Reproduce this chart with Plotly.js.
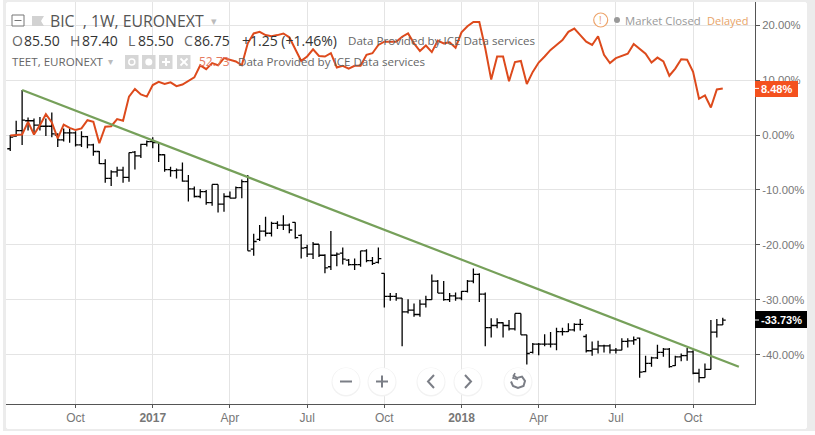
<!DOCTYPE html>
<html><head><meta charset="utf-8">
<script src="https://cdn.plot.ly/plotly-3.0.1.min.js"></script>
<style>
html,body{margin:0;padding:0;background:#fff;width:815px;height:435px;overflow:hidden}
#frame{position:absolute;left:3px;top:0;width:812px;height:431px;background:#ececec}
#chart{position:absolute;left:6px;top:2px;width:801px;height:427px;background:#fff;border-radius:3px;overflow:hidden}
</style></head><body>
<div id="frame"></div><div id="chart"></div>
<script>
const firstWeek = '2016-07-16';
const opens = [-2.5,-0.2,0.8,2.6,2.6,1.8,1.6,1.6,0,-0.9,0.4,0.4,-1.8,-0.3,-1.8,-3.0,-5.2,-7.9,-6.7,-6.4,
 -7.7,-3.1,-3.8,-1.7,-1.2,-1.4,-3.6,-6.3,-6.5,-6.4,-8.4,-9.8,-11.2,-10.3,-12.3,-9.0,-12.6,-11.2,-11.5,-9.6,
 -8.5,-20.8,-19.0,-17.5,-17.9,-16.1,-16.4,-16.4,-15.9,-18.3,-20.5,-21.7,-19.9,-21.9,-24.0,-21.9,-21.5,-22.8,-23.6,-23.6,
 -21.1,-22.9,-23.2,-25.2,-29.4,-29.4,-29.7,-32.2,-31.9,-32.7,-30.8,-30.0,-26.6,-28.8,-30.0,-29.3,-29.7,-28.5,-26.6,-25.4,
 -29.0,-35.1,-34.7,-34.2,-34.7,-35.3,-32.5,-36.4,-39.6,-38.1,-38.1,-38.1,-38.1,-35.8,-35.8,-35.5,-34.5,-36.7,-39.3,-39.0,
 -38.4,-38.4,-39.2,-39.2,-37.6,-37.5,-37.0,-43.1,-41.6,-40.6,-39.6,-39.0,-42.0,-40.4,-40.2,-39.5,-43.4,-44.2,-42.7,-35.9,-34.6];
const highs = [0,2.6,8.2,3.2,3.0,3.3,3.0,4.1,0.3,1.2,1.2,0.7,0.7,-0.2,-1.6,-2.9,-4.4,-6.4,-5.8,-5.8,
 -3.2,-2.9,-1.6,-1.0,-0.4,-1.4,-3.5,-5.8,-6.1,-5.0,-7.3,-9.4,-9.9,-10.0,-9.0,-9.0,-10.6,-10.3,-9.4,-8.1,
 -7.3,-18.0,-16.4,-14.9,-15.8,-15.7,-14.6,-16.1,-15.9,-18.1,-20.0,-19.5,-19.9,-21.7,-17.5,-21.4,-20.5,-22.6,-22.5,-21.1,
 -20.8,-22.2,-20.5,-25.2,-28.8,-28.8,-29.7,-29.9,-30.7,-30.0,-29.3,-25.4,-26.4,-26.6,-28.8,-28.7,-28.4,-26.4,-24.3,-25.2,
 -28.7,-33.4,-33.4,-34.1,-33.7,-32.5,-32.5,-36.4,-37.9,-37.9,-36.3,-35.9,-35.1,-35.1,-34.3,-34.3,-33.5,-36.3,-37.6,-37.5,
 -38.2,-38.1,-38.8,-37.0,-37.0,-36.7,-36.9,-40.2,-40.4,-38.2,-38.8,-38.8,-40.2,-39.8,-38.8,-39.2,-42.6,-41.6,-33.7,-33.5,-33.3];
const lows = [-2.9,-0.3,-1.8,0.8,0,0.8,-0.2,-0.4,-2.2,-1.2,-1.4,-2.1,-2.2,-2.4,-3.8,-5.3,-8.7,-9.3,-7.6,-8.7,
 -8.5,-6.3,-4.2,-2.1,-2.4,-4.9,-6.7,-7.6,-7.9,-8.5,-12.1,-11.4,-11.5,-12.7,-12.9,-14.1,-14.0,-11.5,-11.5,-11.5,
 -21.1,-22.0,-19.3,-18.5,-18.5,-17.1,-17.3,-17.9,-18.9,-22.5,-22.2,-22.6,-22.2,-25.2,-24.6,-23.9,-23.6,-23.8,-24.6,-24.0,
 -23.2,-23.7,-23.4,-31.4,-30.2,-30.2,-38.5,-32.5,-33.1,-33.1,-31.4,-30.0,-28.8,-30.2,-30.4,-30.2,-30.1,-28.7,-27.0,-30.4,
 -38.5,-36.9,-35.2,-36.9,-35.6,-35.6,-36.4,-41.8,-39.8,-40.1,-38.5,-38.7,-39.2,-36.5,-35.9,-35.8,-35.6,-39.6,-40.2,-39.8,
 -39.6,-39.8,-39.8,-39.2,-38.7,-38.2,-44.2,-43.2,-42.2,-40.8,-40.4,-42.4,-42.1,-41.2,-41.1,-43.6,-45.1,-44.2,-42.7,-36.9,-34.6];
const closes = [-0.4,0.8,2.7,2.6,1.8,1.6,1.6,0.2,-0.9,0.4,0.4,-1.8,-0.3,-1.8,-3.0,-5.2,-7.9,-6.7,-6.4,-7.7,
 -3.2,-3.8,-1.7,-1.2,-1.4,-3.6,-6.3,-6.5,-6.4,-8.4,-9.8,-11.2,-10.3,-12.3,-9.0,-12.6,-11.2,-11.5,-9.6,-8.5,
 -21.1,-19.4,-17.5,-17.9,-16.1,-16.4,-16.4,-17.3,-18.7,-20.6,-21.7,-19.9,-21.9,-24.2,-21.9,-21.7,-22.6,-23.6,-23.6,-21.1,
 -22.9,-23.4,-22.5,-29.4,-29.4,-29.7,-32.2,-31.9,-32.7,-30.8,-30.0,-26.6,-28.8,-30.0,-29.3,-29.7,-28.5,-26.6,-25.4,-29.0,
 -35.1,-34.7,-34.2,-34.7,-35.3,-32.5,-36.4,-39.8,-38.1,-38.1,-38.1,-38.1,-35.8,-35.8,-35.5,-34.5,-34.5,-39.3,-39.0,-38.4,
 -38.4,-39.2,-39.2,-37.6,-37.5,-37.3,-43.2,-41.6,-40.6,-39.6,-39.0,-42.2,-40.4,-40.2,-39.5,-43.4,-44.2,-42.7,-35.9,-34.6,-33.73];
const teet = [-0.1,0,0.1,2.4,0.1,1.8,3.8,2.3,-0.6,1.9,1.3,0.9,1.2,2.7,2.4,-1.5,1.5,1.6,2.9,2.6,
 7.0,8.4,7.4,7.0,9.1,9.7,9.3,9.6,8.9,9.2,9.9,10.5,12.7,12.0,13.1,12.7,14.0,13.7,13.4,12.7,
 16.7,18.5,18.8,18.2,18.0,18.2,18.5,17.8,15.5,13.5,14.3,15.6,14.4,14.3,14.9,12.3,12.6,12.1,12.6,12.6,
 14.6,14.9,16.4,17.0,17.0,17.0,17.9,18.5,16.7,15.3,16.3,15.1,17.2,16.7,16.9,15.9,18.7,19.8,20.6,20.6,
 15.8,10.1,14.3,14.3,9.8,13.3,13.5,9.3,11.5,13.2,14.3,15.5,16.4,17.3,18.8,19.4,18.2,17.0,16.4,18.0,
 14.6,13.1,14.0,14.4,14.8,16.6,15.7,14.8,13.2,14.1,13.4,10.8,12.1,13.8,13.7,11.5,6.6,7.2,5.0,8.3,8.48];
const trendDates = ['2016-07-30','2018-11-22'];
const trendValues = [8.2,-42.2];
const yTicks = [20,10,0,-10,-20,-30,-40];
const yLabels = ['20.00%','10.00%','0.00%','-10.00%','-20.00%','-30.00%','-40.00%'];
const xTicks = ['2016-10-01','2016-12-31','2017-04-01','2017-07-01','2017-09-30','2017-12-30','2018-03-31','2018-06-30','2018-09-29'];
const xLabels = ['Oct','<b>2017</b>','Apr','Jul','Oct','<b>2018</b>','Apr','Jul','Oct'];

const dates = opens.map((_, i) => {
  const d = new Date(firstWeek + 'T00:00:00Z');
  d.setUTCDate(d.getUTCDate() + 7 * i);
  return d.toISOString().slice(0, 10);
});

// Pixel helpers for page furniture (header, buttons, price tags)
const PL = 6, PR = 755, PT = 2, PB = 404;
const px = x => (x - PL) / (PR - PL);
const py = y => (PB - y) / (PB - PT);
const FONT = '"Open Sans","Noto Sans",sans-serif';
const AX = '"Liberation Sans",Arial,sans-serif';
const anns = [];
function T(x, y, text, size, color, anchor, font) {
  anns.push({xref:'paper', yref:'paper', x:px(x), y:py(y), text, showarrow:false,
    xanchor:anchor || 'left', yanchor:'middle', borderpad:0,
    font:{family:font || FONT, size, color}});
}
const shapes = [];
function R(x0,y0,x1,y1,fill,line,w) {
  shapes.push({type:'rect',xref:'paper',yref:'paper',x0:px(x0),x1:px(x1),y0:py(y0),y1:py(y1),
    fillcolor:fill||'rgba(0,0,0,0)',line:{color:line||'rgba(0,0,0,0)',width:w||0}});
}
function C(cx,cy,r,fill,line,w) {
  shapes.push({type:'circle',xref:'paper',yref:'paper',x0:px(cx-r),x1:px(cx+r),y0:py(cy-r),y1:py(cy+r),
    fillcolor:fill||'rgba(0,0,0,0)',line:{color:line||'rgba(0,0,0,0)',width:w||0}});
}
function L(pts,color,w) {
  const path = pts.map((p,i)=>(i?'L':'M')+px(p[0])+','+py(p[1])).join(' ');
  shapes.push({type:'path',xref:'paper',yref:'paper',path,line:{color,width:w},fillcolor:'rgba(0,0,0,0)'});
}

// Header
R(12,15,24,26,'#fff','#777',1); L([[14.5,20.5],[21.5,20.5]],'#777',1);
shapes.push({type:'path',xref:'paper',yref:'paper',fillcolor:'#d2d2d2',line:{width:0,color:'rgba(0,0,0,0)'},
  path:`M${px(32)},${py(16)} L${px(44)},${py(16)} L${px(41)},${py(21)} L${px(44)},${py(26)} L${px(32)},${py(26)} Z`});
T(49,21,'BIC  , 1W, EURONEXT',15.8,'#555');
T(210,21,'▾',11,'#bbb');
const grey='#666', dark='#333';
[[11,'O'],[69,'H'],[127,'L'],[183,'C']].forEach(a=>T(a[0],41,a[1],14,grey));
[[23,'85.50'],[81,'87.40'],[137,'85.50'],[193,'86.75']].forEach(a=>T(a[0],41,a[1],14,dark));
T(241,41,'+1.25 (+1.46%)',14,dark);
T(347,41,'Data Provided by ICE Data services',11.6,'#666');
T(11,62,'TEET, EURONEXT',11.6,'#666');
T(107,61,'▾',10,'#bbb');
[125,142,159,177].forEach(x=>R(x,55,x+13.5,69,'#d6d6d6'));
C(131.8,62,3,'rgba(0,0,0,0)','#fff',1.5);
C(148.8,62,3.5,'#fff');
L([[166,58],[166,66]],'#fff',2); L([[162,62],[170,62]],'#fff',2);
L([[180.5,58.5],[187.5,65.5]],'#fff',1.8); L([[187.5,58.5],[180.5,65.5]],'#fff',1.8);
T(198,62,'52.73',12,'#e57a60');
T(237,62,'Data Provided by ICE Data services',11.6,'#666');

// Market status
C(600.7,20,7,'#fff','#eda56d',1.2);
T(600.7,20,'!',10,'#e89a5c','center');
C(617,20,3,'#999');
T(624,20,'Market Closed',11.3,'#999');
T(706,20,'Delayed',11,'#e8a468');

// Bottom buttons
[346,382,431,468,518].forEach(x=>{C(x,382,14.5,'#f2f2f2');C(x,381.5,13.5,'#fff');});
L([[340,381.5],[352,381.5]],'#7b7e86',2);
L([[376,381.5],[388,381.5]],'#7b7e86',2); L([[382,375.5],[382,387.5]],'#7b7e86',2);
L([[434,375],[428,381.5],[434,388]],'#7b7e86',2);
L([[465,375],[471,381.5],[465,388]],'#7b7e86',2);
L([[513,375],[517,378],[522,376.6],[525,381],[523.5,386],[518,388],[513,386],[511,381.5]],'#7b7e86',2);
L([[515,373],[513,378],[518,379.5]],'#7b7e86',1.6);

// Price tags
R(755,81,798,97,'#f4511e');
T(776.5,89,'<b>8.48%</b>',11,'#fff','center',AX);
L([[755,88.4],[759,88.4]],'#fff',1);
R(755,311,807,328,'#000');
T(781,320,'<b>-33.73%</b>',11,'#fff','center',AX);
L([[755,320],[759,320]],'#fff',1);

const traces = [
 {type:'ohlc', x:dates, open:opens, high:highs, low:lows, close:closes, tickwidth:0.5,
  increasing:{line:{color:'#000',width:1.3}}, decreasing:{line:{color:'#000',width:1.3}}, hoverinfo:'skip'},
 {type:'scatter', mode:'lines', x:dates, y:teet, line:{color:'#dd4a1c',width:2}, hoverinfo:'skip'},
 {type:'scatter', mode:'lines', x:trendDates, y:trendValues, line:{color:'#76a05a',width:2.2}, hoverinfo:'skip'}
];
const layout = {
 width:801, height:427, margin:{l:0,r:52,t:0,b:25}, paper_bgcolor:'#fff', plot_bgcolor:'#fff', showlegend:false,
 xaxis:{type:'date', range:['2016-07-11','2018-12-11'], tickmode:'array', tickvals:xTicks, ticktext:xLabels,
   showgrid:true, gridcolor:'#e4e4e4', gridwidth:1, zeroline:false, showline:true, linecolor:'#555', linewidth:1,
   ticks:'outside', ticklen:3, tickcolor:'#555', tickangle:0, rangeslider:{visible:false},
   tickfont:{family:AX,size:12,color:'#777'}},
 yaxis:{side:'right', range:[-49,24.23], autorange:false, tickmode:'array', tickvals:yTicks, ticktext:yLabels,
   showgrid:true, gridcolor:'#e4e4e4', gridwidth:1, zeroline:false, showline:true, linecolor:'#555', linewidth:1,
   ticks:'outside', ticklen:4, tickcolor:'#555', tickfont:{family:AX,size:11.3,color:'#777'}},
 shapes, annotations:anns
};
Plotly.newPlot('chart', traces, layout, {displayModeBar:false, staticPlot:true});
</script></body></html>
